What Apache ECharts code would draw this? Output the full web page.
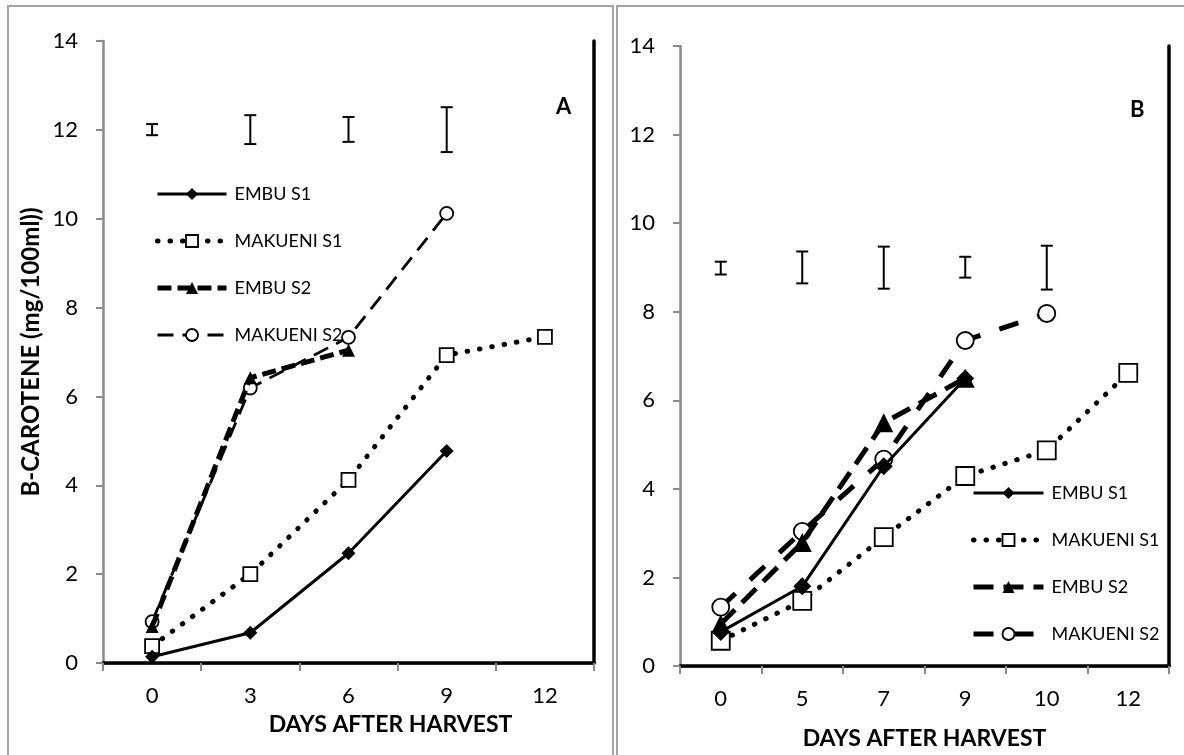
<!DOCTYPE html>
<html>
<head>
<meta charset="utf-8">
<script src="https://cdn.jsdelivr.net/npm/echarts@6/dist/echarts.min.js"></script>
<style>
html,body{margin:0;padding:0;background:#fff;}
#chart{width:1184px;height:755px;}
</style>
</head>
<body>
<div id="chart"></div>
<script>
// ---- data ----
const catsA = ['0', '3', '6', '9', '12'];
const embuS1A = [0.14, 0.68, 2.47, 4.77, null];
const makueniS1A = [0.38, 2.0, 4.12, 6.93, 7.34];
const embuS2A = [0.82, 6.42, 7.04, null, null];
const makueniS2A = [0.93, 6.19, 7.33, 10.12, null];
const errLowA = [11.88, 11.68, 11.73, 11.5];
const errHighA = [12.13, 12.33, 12.29, 12.51];

const catsB = ['0', '5', '7', '9', '10', '12'];
const embuS1B = [0.77, 1.80, 4.51, 6.49, null, null];
const makueniS1B = [0.57, 1.47, 2.91, 4.29, 4.87, 6.62];
const embuS2B = [0.95, 2.79, 5.49, 6.5, null, null];
const makueniS2B = [1.33, 3.04, 4.67, 7.35, 7.96, null];
const errLowB = [8.84, 8.64, 8.52, 8.77, 8.50];
const errHighB = [9.13, 9.36, 9.47, 9.24, 9.49];

const seriesNames = ['EMBU S1', 'MAKUENI S1', 'EMBU S2', 'MAKUENI S2'];
const yTicks = { min: 0, max: 14, interval: 2 };
const xTitle = 'DAYS AFTER HARVEST';
const yTitle = 'B-CAROTENE (mg/100ml))';

// ---- chart ----
const FONT = 'Lato';
const chart = echarts.init(document.getElementById('chart'));

function bottomAxis(grid, cats, nameGap, padLeft) {
  return {
    type: 'category', gridIndex: grid, data: cats, position: 'bottom',
    boundaryGap: true,
    axisLine: { show: true, lineStyle: { color: '#7a7a7a', width: 2.5 } },
    axisTick: { show: true, length: 8, inside: false, lineStyle: { color: '#8a8a8a', width: 2 } },
    axisLabel: { fontFamily: FONT, fontSize: 22, color: '#000', margin: 22 },
    splitLine: { show: false },
    name: xTitle, nameLocation: 'middle', nameGap: nameGap,
    nameTextStyle: { fontFamily: FONT, fontSize: 23, fontWeight: 'bold', color: '#000', padding: [0, 0, 0, padLeft] }
  };
}
function topAxis(grid, cats) {
  return {
    type: 'category', gridIndex: grid, data: cats, position: 'top',
    axisLine: { show: true, lineStyle: { color: '#000', width: 3.5 } },
    axisTick: { show: false }, axisLabel: { show: false }, splitLine: { show: false }
  };
}
function leftAxis(grid, withName) {
  const a = {
    type: 'value', gridIndex: grid, position: 'left',
    min: yTicks.min, max: yTicks.max, interval: yTicks.interval,
    axisLine: { show: true, lineStyle: { color: '#8a8a8a', width: 2.5 } },
    axisTick: { show: true, length: 7, inside: false, lineStyle: { color: '#8a8a8a', width: 2 } },
    axisLabel: { fontFamily: FONT, fontSize: 22, color: '#000', margin: 25 },
    splitLine: { show: false }
  };
  if (withName) {
    a.name = yTitle; a.nameLocation = 'middle'; a.nameGap = 60;
    a.nameTextStyle = { fontFamily: FONT, fontSize: 24, fontWeight: 'bold', color: '#000' };
  }
  return a;
}
function rightAxis(grid) {
  return {
    type: 'value', gridIndex: grid, position: 'right',
    min: yTicks.min, max: yTicks.max, interval: yTicks.interval,
    axisLine: { show: true, lineStyle: { color: '#000', width: 3.5 } },
    axisTick: { show: false }, axisLabel: { show: false }, splitLine: { show: false }
  };
}

function errRender(params, api) {
  const x = api.value(0), lo = api.value(1), hi = api.value(2);
  const p1 = api.coord([x, lo]);
  const p2 = api.coord([x, hi]);
  const w = 6;
  const st = { stroke: '#000', lineWidth: 2 };
  return {
    type: 'group', children: [
      { type: 'line', shape: { x1: p1[0], y1: p1[1], x2: p2[0], y2: p2[1] }, style: st },
      { type: 'line', shape: { x1: p1[0] - w, y1: p1[1], x2: p1[0] + w, y2: p1[1] }, style: st },
      { type: 'line', shape: { x1: p2[0] - w, y1: p2[1], x2: p2[0] + w, y2: p2[1] }, style: st }
    ]
  };
}

function lineSeries(name, data, xi, yi, opt) {
  return Object.assign({
    type: 'line', name: name, data: data, xAxisIndex: xi, yAxisIndex: yi,
    connectNulls: false, animation: false
  }, opt);
}

function styles(big) {
  return {
    e1: {
      symbol: 'diamond', symbolSize: big ? 18 : 14,
      lineStyle: { color: '#000', width: 3, type: 'solid' },
      itemStyle: { color: '#000' }, z: 6
    },
    m1: {
      symbol: 'rect', symbolSize: big ? 18 : 14,
      lineStyle: { color: '#000', width: 5, type: [0.5, 12], cap: 'round' },
      itemStyle: { color: '#fff', borderColor: '#000', borderWidth: 1.8 }, z: 3
    },
    e2: {
      symbol: 'triangle', symbolSize: big ? 19 : 13,
      lineStyle: { color: '#000', width: 5, type: big ? [20, 10] : [14, 6] },
      itemStyle: { color: '#000' }, z: 5
    },
    m2: {
      symbol: 'circle', symbolSize: big ? 17 : 13,
      lineStyle: { color: '#000', width: big ? 5 : 2.8, type: big ? [20, 20] : [16, 9] },
      itemStyle: { color: '#fff', borderColor: '#000', borderWidth: 1.8 }, z: 4
    }
  };
}
const sA = styles(false), sB = styles(true);

const legendText = { fontFamily: FONT, fontSize: 18, color: '#000', lineHeight: 20, padding: [0, 0, 0, 3] };

const option = {
  backgroundColor: '#fff',
  animation: false,
  grid: [
    { left: 103, top: 41, width: 491, height: 622, containLabel: false },
    { left: 680, top: 46, width: 489, height: 621, containLabel: false }
  ],
  xAxis: [
    bottomAxis(0, catsA, 50, 84), topAxis(0, catsA),
    bottomAxis(1, catsB, 61, 0), topAxis(1, catsB)
  ],
  yAxis: [
    leftAxis(0, true), rightAxis(0),
    leftAxis(1, false), rightAxis(1)
  ],
  legend: [
    {
      orient: 'vertical', left: 150, top: 179, itemWidth: 69, itemHeight: 15, itemGap: 27,
      selectedMode: false, textStyle: legendText,
      data: seriesNames.map((n, i) => {
        const st = [sA.e1, sA.m1, sA.e2, sA.m2][i];
        return { name: n, lineStyle: st.lineStyle, itemStyle: st.itemStyle };
      })
    },
    {
      orient: 'vertical', left: 966, top: 478, itemWidth: 70, itemHeight: 15, itemGap: 27,
      selectedMode: false, textStyle: legendText,
      data: seriesNames.map((n, i) => {
        const st = [sB.e1, sB.m1, sB.e2, sB.m2][i];
        return { name: n, lineStyle: st.lineStyle, itemStyle: st.itemStyle };
      })
    }
  ],
  series: [
    lineSeries('EMBU S1', embuS1A, 0, 0, sA.e1),
    lineSeries('MAKUENI S1', makueniS1A, 0, 0, sA.m1),
    lineSeries('EMBU S2', embuS2A, 0, 0, sA.e2),
    lineSeries('MAKUENI S2', makueniS2A, 0, 0, sA.m2),
    {
      type: 'custom', name: 'errA', xAxisIndex: 0, yAxisIndex: 0, renderItem: errRender,
      data: errLowA.map((lo, i) => [i, lo, errHighA[i]]), z: 7
    },
    lineSeries('EMBU S1', embuS1B, 2, 2, sB.e1),
    lineSeries('MAKUENI S1', makueniS1B, 2, 2, sB.m1),
    lineSeries('EMBU S2', embuS2B, 2, 2, sB.e2),
    lineSeries('MAKUENI S2', makueniS2B, 2, 2, sB.m2),
    {
      type: 'custom', name: 'errB', xAxisIndex: 2, yAxisIndex: 2, renderItem: errRender,
      data: errLowB.map((lo, i) => [i, lo, errHighB[i]]), z: 7
    }
  ],
  graphic: [
    { type: 'rect', shape: { x: 8, y: 6, width: 605, height: 780 }, style: { fill: 'none', stroke: '#a3a3a3', lineWidth: 2 }, z: -10, silent: true },
    { type: 'rect', shape: { x: 617, y: 6, width: 600, height: 780 }, style: { fill: 'none', stroke: '#a3a3a3', lineWidth: 2 }, z: -10, silent: true },
    { type: 'text', left: 556, top: 96, style: { text: 'A', fontFamily: FONT, fontSize: 22, fontWeight: 'bold', fill: '#000' } },
    { type: 'text', left: 1130, top: 99, style: { text: 'B', fontFamily: FONT, fontSize: 22, fontWeight: 'bold', fill: '#000' } }
  ]
};
chart.setOption(option);
</script>
</body>
</html>
